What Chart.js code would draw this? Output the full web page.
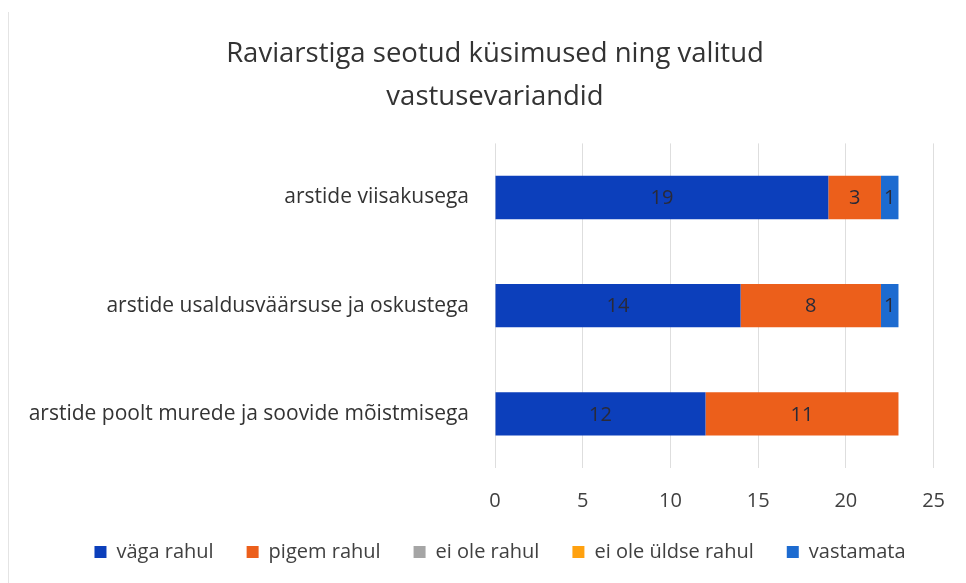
<!DOCTYPE html>
<html>
<head>
<meta charset="utf-8">
<script src="https://cdn.jsdelivr.net/npm/chart.js@4"></script>
<style>
  html, body { margin: 0; padding: 0; background: #fff; }
  #wrap { width: 966px; height: 583px; position: relative; }
  #wrap:before { content: ''; position: absolute; left: 8px; top: 12px; bottom: 0; border-left: 1px solid #e4e4e4; }
</style>
</head>
<body>
<div id="wrap"><canvas id="myChart" width="966" height="583"></canvas></div>
<script>
// chart data
const categories = [
    'arstide viisakusega',
    'arstide usaldusväärsuse ja oskustega',
    'arstide poolt murede ja soovide mõistmisega'
];
const seriesNames = ['väga rahul', 'pigem rahul', 'ei ole rahul', 'ei ole üldse rahul', 'vastamata'];
const vagaRahul = [19, 14, 12];
const pigemRahul = [3, 8, 11];
const eiOleRahul = [0, 0, 0];
const eiOleUldseRahul = [0, 0, 0];
const vastamata = [1, 1, 0];
const xTicks = [0, 5, 10, 15, 20, 25];

const colors = ['#0c3fbb', '#ec5f1b', '#a5a5a5', '#ffa10f', '#1d6bd0'];
const FONT = '"Open Sans", sans-serif';
const LEGEND_CUT = 25;

// simple inline value labels (no datalabels plugin available)
const barLabels = {
    id: 'barLabels',
    afterDatasetsDraw(chart) {
        let ctx = chart.ctx;
        ctx.save();
        ctx.font = '20px ' + FONT;
        ctx.fillStyle = '#2a2a38';
        ctx.textAlign = 'center';
        ctx.textBaseline = 'middle';
        chart.data.datasets.forEach((ds, i) => {
            let meta = chart.getDatasetMeta(i);
            meta.data.forEach((bar, j) => {
                let v = ds.data[j];
                if (!v) return;
                let p = bar.getProps(['x', 'y', 'base'], true);
                ctx.fillText(v, (p.x + p.base) / 2, p.y + 1);
            });
        });
        ctx.restore();
    }
};

// legend takes less height than chart.js gives it, and the title and
// legend sit a bit right of the canvas centre in the original
const tweakBoxes = {
    id: 'tweakBoxes',
    beforeLayout(chart) {
        let lg = chart.legend;
        if (lg && !lg._cut) {
            let fit = lg.fit;
            lg.fit = function () { fit.call(this); this.height -= LEGEND_CUT; };
            lg._cut = true;
        }
    },
    afterLayout(chart) {
        if (chart.titleBlock) { chart.titleBlock.left += 17; chart.titleBlock.right += 17; }
        if (chart.legend) {
            chart.legend.left += 22;
            chart.legend.right += 22;
            chart.legend.top -= LEGEND_CUT;
        }
    }
};

let allSeries = [vagaRahul, pigemRahul, eiOleRahul, eiOleUldseRahul, vastamata];
let datasets = allSeries.map((data, i) => ({
    label: seriesNames[i],
    data: data,
    backgroundColor: colors[i],
    borderWidth: 0,
    barPercentage: 0.8,
    categoryPercentage: 0.5
}));

let ctx = document.getElementById('myChart').getContext('2d');
let chart = new Chart(ctx, {
    type: 'bar',
    data: { labels: categories, datasets: datasets },
    plugins: [barLabels, tweakBoxes],
    options: {
        indexAxis: 'y',
        responsive: false,
        animation: false,
        layout: { padding: { left: 20, right: 30, top: 22, bottom: 11 } },
        plugins: {
            title: {
                display: true,
                text: ['Raviarstiga seotud küsimused ning valitud', 'vastusevariandid'],
                font: { family: FONT, size: 27.5, weight: 'normal', lineHeight: 1.58 },
                color: '#333',
                padding: { top: 10, bottom: 24.5 }
            },
            legend: {
                position: 'bottom',
                labels: {
                    font: { family: FONT, size: 20 },
                    color: '#404040',
                    boxWidth: 12,
                    boxHeight: 12,
                    padding: 33
                }
            },
            tooltip: { enabled: false }
        },
        scales: {
            x: {
                stacked: true,
                min: 0,
                max: 25,
                afterBuildTicks: (s) => { s.ticks = xTicks.map(v => ({ value: v })); },
                grid: { color: '#dedede', drawTicks: false },
                border: { display: false },
                ticks: { font: { family: FONT, size: 20 }, color: '#404040', padding: 21 }
            },
            y: {
                stacked: true,
                grid: { display: false },
                border: { display: false },
                ticks: { font: { family: FONT, size: 21 }, color: '#333', padding: 18 },
                afterFit: (s) => { s.width = 475; }
            }
        }
    }
});
</script>
</body>
</html>
